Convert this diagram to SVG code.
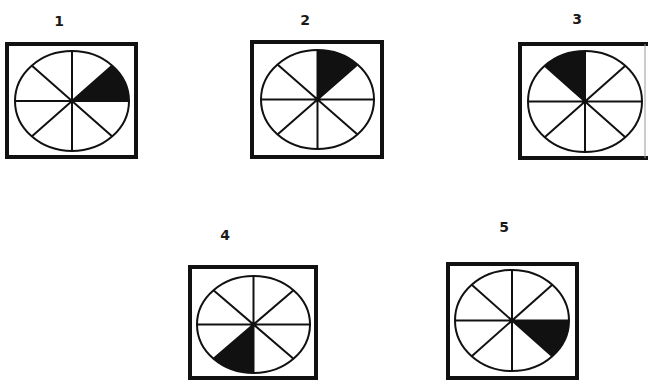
<svg xmlns="http://www.w3.org/2000/svg" width="648" height="387" viewBox="0 0 648 387">
<defs>
<style>
.box{fill:#fff;stroke:#111;stroke-width:4}
.circ{fill:none;stroke:#111;stroke-width:2}
.sp{stroke:#111;stroke-width:2;fill:none}
.sh{fill:#111;stroke:none}
.lbl{font-family:"DejaVu Sans",Verdana,sans-serif;font-weight:bold;font-size:14px;fill:#1a1a1a;text-anchor:middle}
</style>
</defs>
<rect width="648" height="387" fill="#fff"/>
<g id="n1">
<text class="lbl" x="59" y="26">1</text>
<rect class="box" x="7" y="44" width="129" height="113"/>
<g transform="translate(72,101)">
<path class="sh" d="M0,0 L57,0 A57,50 0 0 0 40.3,-35.4 Z"/>
<ellipse class="circ" cx="0" cy="0" rx="57" ry="50"/>
<path class="sp" d="M-57,0H57M0,-50V50M-40.3,-35.4L40.3,35.4M-40.3,35.4L40.3,-35.4"/>
</g>
</g>
<g id="n2">
<text class="lbl" x="305" y="25">2</text>
<rect class="box" x="252" y="42" width="130" height="115"/>
<g transform="translate(317.5,99.5)">
<path class="sh" d="M0,0 L0,-49.5 A56.5,49.5 0 0 1 40,-35 Z"/>
<ellipse class="circ" cx="0" cy="0" rx="56.5" ry="49.5"/>
<path class="sp" d="M-56.5,0H56.5M0,-49.5V49.5M-40,-35L40,35M-40,35L40,-35"/>
</g>
</g>
<g id="n3">
<text class="lbl" x="577" y="24">3</text>
<path class="box" d="M650,44 H520 V158 H650"/>
<line x1="645" y1="44" x2="645" y2="158" stroke="#999" stroke-width="1"/>
<g transform="translate(585,101.5)">
<path class="sh" d="M0,0 L0,-50.5 A57,50.5 0 0 0 -40.3,-35.7 Z"/>
<ellipse class="circ" cx="0" cy="0" rx="57" ry="50.5"/>
<path class="sp" d="M-57,0H57M0,-50.5V50.5M-40.3,-35.7L40.3,35.7M-40.3,35.7L40.3,-35.7"/>
</g>
</g>
<g id="n4">
<text class="lbl" x="225" y="240">4</text>
<rect class="box" x="190" y="267" width="126" height="111"/>
<g transform="translate(253.5,324.5)">
<path class="sh" d="M0,0 L0,48.5 A56.5,48.5 0 0 1 -40,34.3 Z"/>
<ellipse class="circ" cx="0" cy="0" rx="56.5" ry="48.5"/>
<path class="sp" d="M-56.5,0H56.5M0,-48.5V48.5M-40,-34.3L40,34.3M-40,34.3L40,-34.3"/>
</g>
</g>
<g id="n5">
<text class="lbl" x="504" y="232">5</text>
<rect class="box" x="448" y="264" width="129" height="114"/>
<g transform="translate(512,320.5)">
<path class="sh" d="M0,0 L57,0 A57,50.5 0 0 1 40.3,35.7 Z"/>
<ellipse class="circ" cx="0" cy="0" rx="57" ry="50.5"/>
<path class="sp" d="M-57,0H57M0,-50.5V50.5M-40.3,-35.7L40.3,35.7M-40.3,35.7L40.3,-35.7"/>
</g>
</g>
<g id="connectors"></g>
</svg>
